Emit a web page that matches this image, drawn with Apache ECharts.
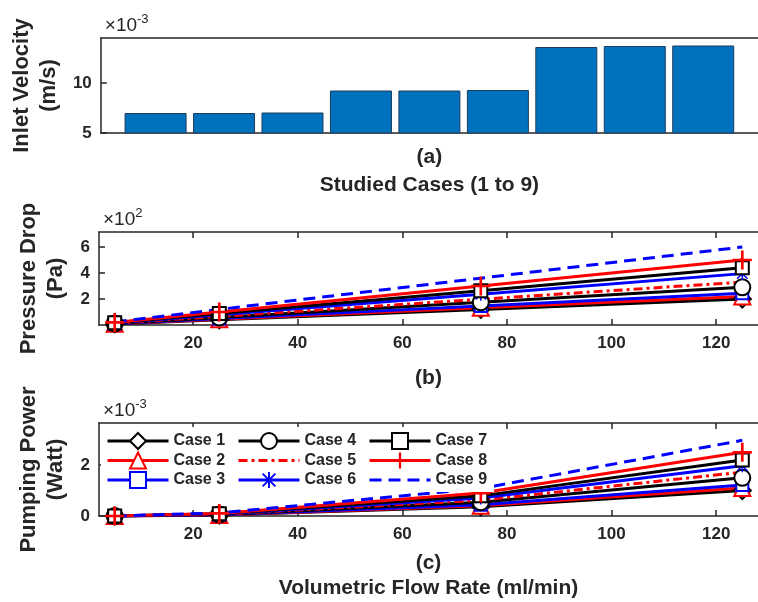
<!DOCTYPE html>
<html>
<head>
<meta charset="utf-8">
<script src="https://cdn.jsdelivr.net/npm/echarts@6/dist/echarts.min.js"></script>
<style>
  html, body { margin: 0; padding: 0; background: #fff; }
  #chart { width: 758px; height: 602px; }
</style>
</head>
<body>
<div id="chart"></div>
<script>
// ---- data ----
var caseNames = ['Case 1', 'Case 2', 'Case 3', 'Case 4', 'Case 5', 'Case 6', 'Case 7', 'Case 8', 'Case 9'];
var caseIds = [1, 2, 3, 4, 5, 6, 7, 8, 9];
var inletVelocity = [7.0, 7.0, 7.05, 9.25, 9.25, 9.3, 13.6, 13.7, 13.75]; // x 1e-3 m/s
var velocityTicks = [5, 10];

var flowRates = [5, 25, 75, 125]; // ml/min
var flowTicks = [20, 40, 60, 80, 100, 120];

// pressure drop, x 1e2 Pa
var dropCase1 = [0.08, 0.40, 1.20, 2.00];
var dropCase2 = [0.09, 0.44, 1.32, 2.20];
var dropCase3 = [0.10, 0.49, 1.47, 2.45];
var dropCase4 = [0.12, 0.58, 1.74, 2.90];
var dropCase5 = [0.13, 0.66, 1.98, 3.30];
var dropCase6 = [0.16, 0.79, 2.37, 3.95];
var dropCase7 = [0.18, 0.88, 2.64, 4.40];
var dropCase8 = [0.20, 1.00, 3.00, 5.00];
var dropCase9 = [0.24, 1.20, 3.60, 6.00];
var dropTicks = [2, 4, 6];

// pumping power, x 1e-3 W
var powerCase1 = [0.00, 0.04, 0.36, 1.00];
var powerCase2 = [0.00, 0.04, 0.40, 1.10];
var powerCase3 = [0.00, 0.05, 0.44, 1.22];
var powerCase4 = [0.00, 0.06, 0.54, 1.50];
var powerCase5 = [0.00, 0.07, 0.62, 1.72];
var powerCase6 = [0.00, 0.08, 0.71, 1.97];
var powerCase7 = [0.00, 0.09, 0.79, 2.20];
var powerCase8 = [0.00, 0.10, 0.90, 2.50];
var powerCase9 = [0.00, 0.12, 1.08, 2.97];
var powerTicks = [0, 2];

var pressureDrop = [dropCase1, dropCase2, dropCase3, dropCase4, dropCase5, dropCase6, dropCase7, dropCase8, dropCase9];
var pumpingPower = [powerCase1, powerCase2, powerCase3, powerCase4, powerCase5, powerCase6, powerCase7, powerCase8, powerCase9];

// ---- styles ----
var FONT = 'Liberation Sans, Arial, sans-serif';
var INK = '#262626';
var plusPath = 'path://M4.3,0H5.7V4.3H10V5.7H5.7V10H4.3V5.7H0V4.3H4.3Z';
var starPath = 'path://M4.4,0H5.6V10H4.4Z M0,4.4H10V5.6H0Z M1.42,0.58L9.42,8.58L8.58,9.42L0.58,1.42Z M9.42,1.42L1.42,9.42L0.58,8.58L8.58,0.58Z';

var caseStyles = [
    { color: '#000000', symbol: 'emptyDiamond', size: 17, type: 'solid' },
    { color: '#ff0000', symbol: 'emptyTriangle', size: 16, type: 'solid' },
    { color: '#0000ff', symbol: 'emptyRect', size: 12, type: 'solid' },
    { color: '#000000', symbol: 'emptyCircle', size: 16, type: 'solid' },
    { color: '#ff0000', symbol: 'none', size: 0, type: [9, 4, 3, 4] },
    { color: '#0000ff', symbol: starPath, size: 13, type: 'solid' },
    { color: '#000000', symbol: 'emptyRect', size: 13, type: 'solid' },
    { color: '#ff0000', symbol: plusPath, size: 19, type: 'solid' },
    { color: '#0000ff', symbol: 'none', size: 0, type: [12, 7] }
];

var chart = echarts.init(document.getElementById('chart'));

var axisLine = { show: true, lineStyle: { color: INK, width: 1.5 } };
var tickLabel = { fontFamily: FONT, fontWeight: 'bold', fontSize: 17, color: INK };
var titleText = { fontFamily: FONT, fontWeight: 'bold', fontSize: 21, color: INK };

function expName(base, exp) {
    return '{b|' + base + '}{s|' + exp + '}';
}
var expStyle = {
    align: 'left', verticalAlign: 'bottom', padding: [0, 0, 3, 0],
    rich: {
        b: { fontFamily: FONT, fontSize: 19, color: INK, verticalAlign: 'bottom', lineHeight: 22 },
        s: { fontFamily: FONT, fontSize: 13, color: INK, verticalAlign: 'top', lineHeight: 22 }
    }
};

function flowAxis(grid, name, gap, lineHeight) {
    return {
        type: 'value', gridIndex: grid, min: 2, max: 128,
        axisLine: axisLine,
        axisTick: { show: true, inside: true, length: 6, customValues: flowTicks, lineStyle: { color: INK, width: 1.5 } },
        axisLabel: Object.assign({ customValues: flowTicks, margin: 10 }, tickLabel),
        splitLine: { show: false },
        name: name, nameLocation: 'middle', nameGap: gap,
        nameTextStyle: Object.assign({ lineHeight: lineHeight }, titleText)
    };
}

function mirrorAxis(grid, ticks, exp) {
    return {
        type: 'value', gridIndex: grid, position: 'top',
        min: grid === 0 ? 0.2 : 2, max: grid === 0 ? 9.8 : 128,
        axisLine: axisLine,
        axisTick: ticks ? { show: true, inside: true, length: 6, customValues: ticks, lineStyle: { color: INK, width: 1.5 } } : { show: false },
        axisLabel: { show: false },
        splitLine: { show: false },
        name: exp, nameLocation: 'start', nameGap: -4,
        nameTextStyle: expStyle
    };
}

function valueAxis(grid, min, max, ticks, name, gap) {
    return {
        type: 'value', gridIndex: grid, min: min, max: max,
        axisLine: axisLine,
        axisTick: { show: true, inside: true, length: 6, customValues: ticks, lineStyle: { color: INK, width: 1.5 } },
        axisLabel: Object.assign({ customValues: ticks, margin: 9 }, tickLabel),
        splitLine: { show: false },
        name: name, nameLocation: 'middle', nameRotate: 90, nameGap: gap,
        nameTextStyle: Object.assign({ lineHeight: 27 }, titleText, { fontSize: 22 })
    };
}

var series = [{
    type: 'bar', xAxisIndex: 0, yAxisIndex: 0,
    data: inletVelocity.map(function (v, i) { return [caseIds[i], v]; }),
    barWidth: 62,
    itemStyle: { color: '#0072BD', borderColor: '#1d3b5e', borderWidth: 1 },
    clip: true
}];

[pressureDrop, pumpingPower].forEach(function (values, p) {
    values.forEach(function (vals, i) {
        var st = caseStyles[i];
        series.push({
            type: 'line', name: caseNames[i],
            xAxisIndex: p + 1, yAxisIndex: p + 1,
            data: flowRates.map(function (q, k) { return [q, vals[k]]; }),
            symbol: st.symbol === 'none' ? 'circle' : st.symbol,
            showSymbol: st.symbol !== 'none',
            symbolSize: st.size,
            lineStyle: { color: st.color, width: 3, type: st.type },
            itemStyle: { color: st.color, borderWidth: 2.5 },
            emphasis: { disabled: true },
            animation: false
        });
    });
});

function legendCol(left, names) {
    return {
        orient: 'vertical', left: left, top: 427,
        itemWidth: 61, itemHeight: 20, itemGap: -0.5,
        padding: [4, 7, 2, 5],
        backgroundColor: '#fff',
        selectedMode: false,
        lineStyle: { width: 3 },
        textStyle: { fontFamily: FONT, fontWeight: 'bold', fontSize: 16, color: INK, lineHeight: 20 },
        data: names.map(function (n) {
            var i = caseNames.indexOf(n);
            return caseStyles[i].symbol === 'none' ? { name: n, itemStyle: { opacity: 0 } } : { name: n };
        })
    };
}

var option = {
    animation: false,
    backgroundColor: '#fff',
    grid: [
        { left: 100, top: 38, width: 664, height: 95 },
        { left: 99, top: 232, width: 665, height: 93 },
        { left: 99, top: 423, width: 665, height: 95 }
    ],
    legend: [
        legendCol(101, caseNames.slice(0, 3)),
        legendCol(232, caseNames.slice(3, 6)),
        legendCol(363, caseNames.slice(6, 9))
    ],
    xAxis: [
        {
            type: 'value', gridIndex: 0, min: 0.2, max: 9.8,
            axisLine: axisLine, axisTick: { show: false }, axisLabel: { show: false }, splitLine: { show: false },
            name: '(a)\nStudied Cases (1 to 9)', nameLocation: 'middle', nameGap: 10,
            nameTextStyle: Object.assign({ lineHeight: 28 }, titleText)
        },
        flowAxis(1, '(b)', 39, 28),
        flowAxis(2, '(c)\nVolumetric Flow Rate (ml/min)', 35, 25),
        mirrorAxis(0, null, expName('×10', '-3')),
        mirrorAxis(1, flowTicks, expName('×10', '2')),
        mirrorAxis(2, flowTicks, expName('×10', '-3'))
    ],
    yAxis: [
        valueAxis(0, 5, 14.5, velocityTicks, 'Inlet Velocity\n(m/s)', 32),
        valueAxis(1, 0, 7.15, dropTicks, 'Pressure Drop\n(Pa)', 23),
        valueAxis(2, 0, 3.65, powerTicks, 'Pumping Power\n(Watt)', 23)
    ],
    series: series
};

option && chart.setOption(option);
</script>
</body>
</html>
